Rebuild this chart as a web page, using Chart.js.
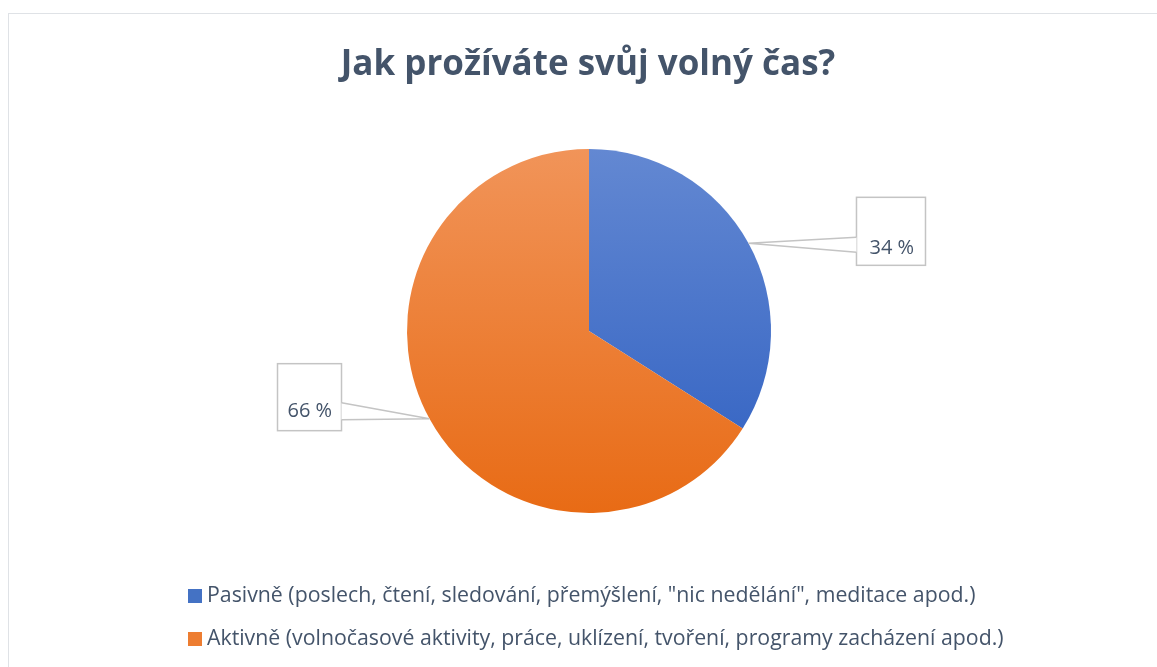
<!DOCTYPE html>
<html>
<head>
<meta charset="utf-8">
<script src="https://cdn.jsdelivr.net/npm/chart.js@4.4.1/dist/chart.umd.min.js"></script>
<style>
  html, body { margin: 0; padding: 0; background: #fff; overflow: hidden; }
  #ramecek { position: absolute; left: 8px; top: 13px; width: 1160px; height: 700px; border: 1px solid #dfe2e6; box-sizing: border-box; }
  #obal { position: absolute; left: 0; top: 0; width: 1157px; height: 667px; }
</style>
</head>
<body>
<div id="ramecek"></div>
<div id="obal"><canvas id="graf"></canvas></div>
<script>
// Data grafu
const nadpis = "Jak prožíváte svůj volný čas?";
const kategorie = [
  "Pasivně (poslech, čtení, sledování, přemýšlení, \"nic nedělání\", meditace apod.)",
  "Aktivně (volnočasové aktivity, práce, uklízení, tvoření, programy zacházení apod.)"
];
const hodnoty = [34, 66];
const popisky = ["34 %", "66 %"];

// Barvy (světlá horní / tmavá dolní část přechodu)
const barvySvetle = ["#6388d2", "#f19459"];
const barvyTmave = ["#2e5fc1", "#e86b15"];
const barvyLegenda = ["#4472c4", "#ed7d31"];
const barvaTextu = "#44546a";

// Umístění bublin s popisky vůči bodu na okraji výseče
const bubliny = [
  { dx: 108, dy: -46, w: 69, h: 68, klin1: 40, klin2: 55, vpravo: false, tx: 13, ty: 51 },
  { dx: -152, dy: -55, w: 64, h: 67, klin1: 39, klin2: 56, vpravo: true, tx: 10, ty: 48 }
];

function prechod(context) {
  const chart = context.chart;
  const area = chart.chartArea;
  if (!area) return barvyLegenda[context.dataIndex];
  const cy = (area.top + area.bottom) / 2;
  const r = Math.min(area.right - area.left, area.bottom - area.top) / 2;
  const g = chart.ctx.createLinearGradient(0, cy - r, 0, cy + r);
  g.addColorStop(0, barvySvetle[context.dataIndex]);
  g.addColorStop(1, barvyTmave[context.dataIndex]);
  return g;
}

const kresleni = {
  id: 'kresleni',
  afterDraw(chart) {
    const ctx = chart.ctx;
    ctx.save();

    // nadpis
    ctx.fillStyle = barvaTextu;
    ctx.font = "bold 35px 'Open Sans'";
    ctx.textAlign = "center";
    ctx.textBaseline = "middle";
    ctx.fillText(nadpis, 588, 65);

    // popisky v bublinách
    const meta = chart.getDatasetMeta(0);
    meta.data.forEach((arc, i) => {
      const p = arc.getProps(['x', 'y', 'startAngle', 'endAngle', 'outerRadius'], true);
      const uhel = (p.startAngle + p.endAngle) / 2;
      const bx = p.x + Math.cos(uhel) * p.outerRadius;
      const by = p.y + Math.sin(uhel) * p.outerRadius;
      const b = bubliny[i];
      const left = bx + b.dx, top = by + b.dy;
      const hrana = b.vpravo ? left + b.w : left;

      ctx.fillStyle = "#fff";
      ctx.strokeStyle = "#c4c4c4";
      ctx.lineWidth = 1.5;
      ctx.fillRect(left, top, b.w, b.h);
      ctx.strokeRect(left, top, b.w, b.h);

      ctx.beginPath();
      ctx.moveTo(hrana, top + b.klin1);
      ctx.lineTo(bx, by);
      ctx.lineTo(hrana, top + b.klin2);
      ctx.closePath();
      ctx.fill();
      ctx.beginPath();
      ctx.moveTo(hrana, top + b.klin1);
      ctx.lineTo(bx, by);
      ctx.lineTo(hrana, top + b.klin2);
      ctx.stroke();

      ctx.fillStyle = barvaTextu;
      ctx.font = "20px 'Open Sans'";
      ctx.textAlign = "left";
      ctx.textBaseline = "middle";
      ctx.fillText(popisky[i], left + b.tx, top + b.ty);
    });

    // legenda
    kategorie.forEach((text, i) => {
      const y = 596 + i * 43;
      ctx.fillStyle = barvyLegenda[i];
      ctx.fillRect(188, y - 7, 14, 14);
      ctx.fillStyle = barvaTextu;
      ctx.font = "21.3px 'Open Sans'";
      ctx.textAlign = "left";
      ctx.textBaseline = "middle";
      ctx.fillText(text, 207, y);
    });
    ctx.restore();
  }
};

new Chart(document.getElementById('graf'), {
  type: 'pie',
  data: {
    labels: kategorie,
    datasets: [{
      data: hodnoty,
      backgroundColor: prechod,
      borderWidth: 0,
      hoverOffset: 0
    }]
  },
  options: {
    responsive: true,
    maintainAspectRatio: false,
    animation: false,
    layout: { padding: { top: 149, bottom: 154, left: 21, right: 0 } },
    plugins: {
      legend: { display: false },
      title: { display: false },
      tooltip: { enabled: false }
    }
  },
  plugins: [kresleni]
});
</script>
</body>
</html>
